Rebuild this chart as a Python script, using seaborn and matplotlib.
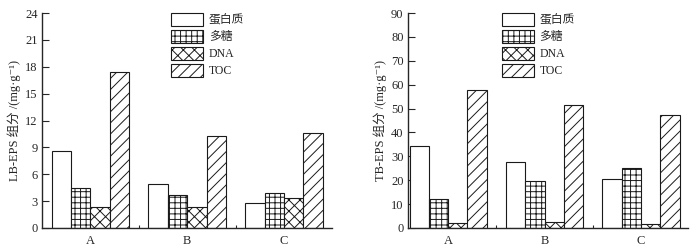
import pandas as pd
import matplotlib
matplotlib.use('Agg')
import matplotlib.pyplot as plt
import matplotlib.patches as mpatches
from matplotlib.ticker import FixedLocator
import seaborn as sns

groups = ['A', 'B', 'C']
components = ['蛋白质', '多糖', 'DNA', 'TOC']
hatches = ['', '+++', 'xxx', '///']

# LB-EPS values (mg/g), rows = components, cols = groups
lb_protein = [8.6, 4.9, 2.8]
lb_polysac = [4.5, 3.7, 3.9]
lb_dna = [2.3, 2.4, 3.4]
lb_toc = [17.4, 10.3, 10.6]

# TB-EPS values (mg/g)
tb_protein = [34.3, 27.5, 20.5]
tb_polysac = [12.2, 19.5, 25.3]
tb_dna = [2.0, 2.5, 1.8]
tb_toc = [57.8, 51.5, 47.3]

lb_ticks = [0, 3, 6, 9, 12, 15, 18, 21, 24]
tb_ticks = [0, 10, 20, 30, 40, 50, 60, 70, 80, 90]


def long_df(vals):
    rows = []
    for comp, v in zip(components, vals):
        for g, x in zip(groups, v):
            rows.append({'group': g, 'comp': comp, 'value': x})
    return pd.DataFrame(rows)


lb_df = long_df([lb_protein, lb_polysac, lb_dna, lb_toc])
tb_df = long_df([tb_protein, tb_polysac, tb_dna, tb_toc])

sns.set_style('ticks')
plt.rcParams['font.family'] = ['Liberation Serif', 'Noto Sans CJK SC', 'DejaVu Serif']
plt.rcParams['hatch.linewidth'] = 0.7
plt.rcParams['axes.linewidth'] = 1.0

fig = plt.figure(figsize=(6.92, 2.48), dpi=100)
ax1 = fig.add_axes([42 / 692, 20 / 248, 290.3 / 692, 215 / 248])
ax2 = fig.add_axes([407.7 / 692, 20 / 248, 280.6 / 692, 215 / 248])

panels = [
    (ax1, lb_df, lb_ticks, 'LB-EPS 组分 /(mg·g⁻¹)', (-0.5, 2.5), 0.444),
    (ax2, tb_df, tb_ticks, 'TB-EPS 组分 /(mg·g⁻¹)', (-0.42, 2.49), 0.335),
]

for ax, df, ticks, ylab, xlim, legx in panels:
    sns.barplot(data=df, x='group', y='value', hue='comp', hue_order=components,
                palette=['white'] * 4, saturation=1, edgecolor='#1a1a1a',
                linewidth=0.8, width=0.8, legend=False, errorbar=None, ax=ax)
    for cont, h in zip(ax.containers, hatches):
        for bar in cont:
            bar.set_hatch(h)
    ax.set_xlim(*xlim)
    ax.set_ylim(ticks[0], ticks[-1])
    ax.set_yticks(ticks)
    ax.xaxis.set_minor_locator(FixedLocator([0.5, 1.5]))
    ax.tick_params(axis='x', which='major', length=0, labelsize=9, pad=5)
    ax.tick_params(axis='x', which='minor', direction='in', length=2.5, width=0.8)
    ax.tick_params(axis='y', direction='in', length=5, width=0.8, labelsize=9, pad=3)
    sns.despine(ax=ax)
    ax.set_xlabel('')
    ax.set_ylabel(ylab, fontsize=9, labelpad=3)

    handles = [mpatches.Patch(facecolor='white', edgecolor='#1a1a1a', linewidth=0.8, hatch=h)
               for h in hatches]
    ax.legend(handles, components, loc='upper left', bbox_to_anchor=(legx, 1.0),
              frameon=False, fontsize=8.5, borderpad=0, borderaxespad=0,
              handlelength=2.7, handleheight=1.3, labelspacing=0.3, handletextpad=0.5)

fig.savefig('out.png', dpi=100)
